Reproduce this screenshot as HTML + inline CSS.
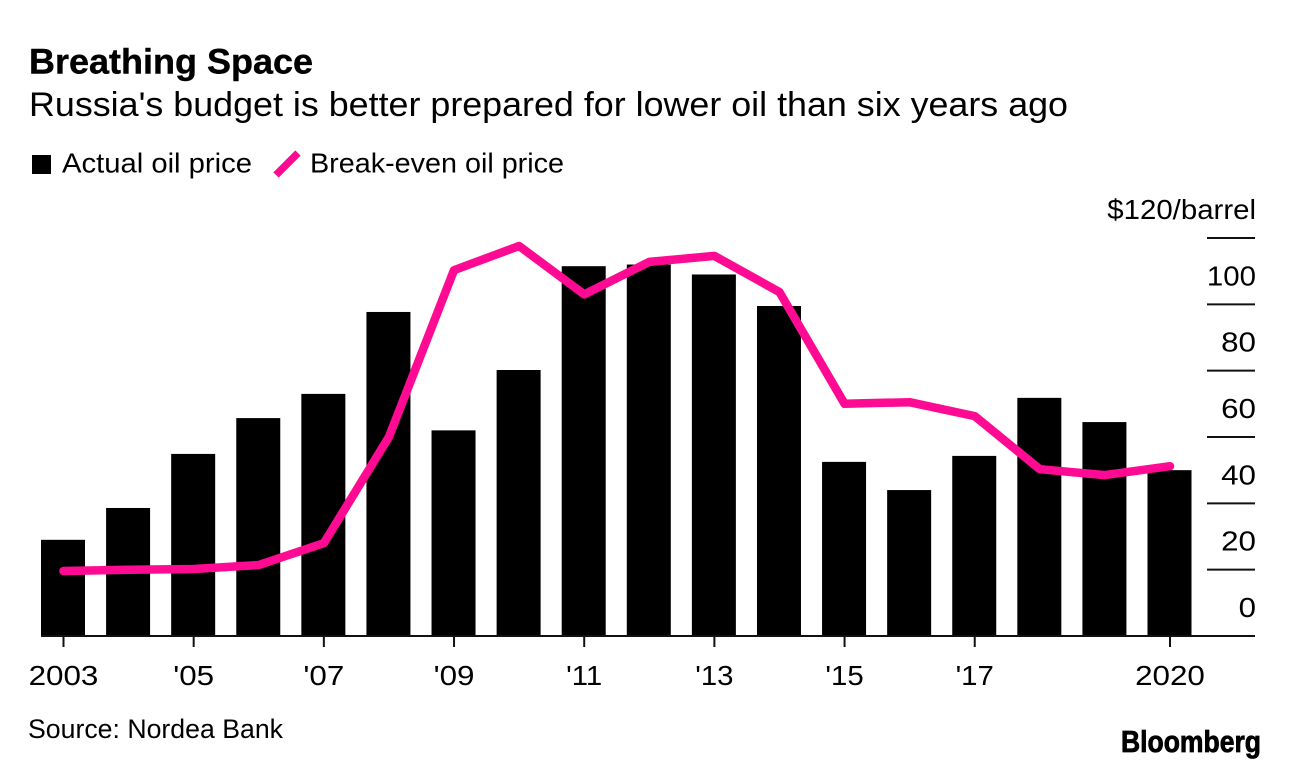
<!DOCTYPE html>
<html lang="en">
<head>
<meta charset="utf-8">
<title>Breathing Space</title>
<style>
html,body{margin:0;padding:0;background:#fff;}
body{width:1289px;height:768px;overflow:hidden;}
svg{display:block;}
text{font-family:"Liberation Sans",sans-serif;fill:#000;}
</style>
</head>
<body>
<svg id="chart" width="1289" height="768" viewBox="0 0 1289 768" xmlns="http://www.w3.org/2000/svg">
  <rect x="0" y="0" width="1289" height="768" fill="#fff"/>
  <text x="29" y="73.5" font-size="35" font-weight="700" stroke="#000" stroke-width="0.4" textLength="284" lengthAdjust="spacingAndGlyphs">Breathing Space</text>
  <text x="29" y="116" font-size="34" textLength="1039" lengthAdjust="spacingAndGlyphs">Russia's budget is better prepared for lower oil than six years ago</text>
  <g>
    <rect x="32" y="155" width="19" height="19" fill="#000"/>
    <text x="62" y="172.5" font-size="28" textLength="190" lengthAdjust="spacingAndGlyphs">Actual oil price</text>
    <line x1="276" y1="175" x2="298" y2="153" stroke="#ff0a93" stroke-width="7.5"/>
    <text x="310" y="172.5" font-size="28" textLength="254" lengthAdjust="spacingAndGlyphs">Break-even oil price</text>
  </g>
  <g id="gridlines"></g>
  <g id="y-labels"></g>
  <g id="bars"></g>
  <line x1="41" y1="636" x2="1255" y2="636" stroke="#111" stroke-width="2"/>
  <g id="x-ticks"></g>
  <g id="x-labels"></g>
  <path id="line" fill="none" stroke="#ff0a93" stroke-width="8.5" stroke-linejoin="round" stroke-linecap="round"/>
  <text x="28" y="738" font-size="27" textLength="255" lengthAdjust="spacingAndGlyphs">Source: Nordea Bank</text>
  <text x="1121" y="752" font-size="31" font-weight="700" stroke="#000" stroke-width="0.8" textLength="140" lengthAdjust="spacingAndGlyphs">Bloomberg</text>
</svg>
<script>
const years = [2003,2004,2005,2006,2007,2008,2009,2010,2011,2012,2013,2014,2015,2016,2017,2018,2019,2020];
const actualPrice = [29,38.6,54.9,65.7,73,97.7,62,80.2,111.5,112,109,99.5,52.5,44,54.3,71.8,64.5,50];
const breakEvenPrice = [19.6,20,20.2,21.4,28,60,110.3,117.6,103,112.8,114.6,103.7,70,70.5,66.3,50.3,48.5,51.2];
const yTicks = [0,20,40,60,80,100,120];
const yTickLabels = ['0','20','40','60','80','100','$120/barrel'];
const xTickYears = [2003,2005,2007,2009,2011,2013,2015,2017,2020];
const xTickLabels = ['2003',"'05","'07","'09","'11","'13","'15","'17",'2020'];

const SVG_NS = 'http://www.w3.org/2000/svg';
const xScale = function (year) { return 63.5 + (year - 2003) * (1170 - 63.5) / 17; };
const yScale = function (value) { return 636 - value * (636 - 238) / 120; };
const BAR_WIDTH = 44;

function make(tag, parentId, attrs) {
  const el = document.createElementNS(SVG_NS, tag);
  Object.keys(attrs).forEach(function (k) { el.setAttribute(k, attrs[k]); });
  document.getElementById(parentId).appendChild(el);
  return el;
}

function widen(textEl) {
  const factor = textEl.textContent.indexOf('1') >= 0 ? 1.05 : 1.12;
  textEl.setAttribute('textLength', (textEl.getComputedTextLength() * factor).toFixed(1));
  textEl.setAttribute('lengthAdjust', 'spacingAndGlyphs');
}

yTicks.forEach(function (v, i) {
  const y = yScale(v);
  if (v > 0) {
    const grid = make('line', 'gridlines', {x1: 1207, x2: 1255, y1: y, y2: y, stroke: '#111', 'stroke-width': 2});
    
    
  }
  const label = make('text', 'y-labels', {x: 1256, y: y - 19, 'font-size': 28, 'text-anchor': 'end'});
  label.textContent = yTickLabels[i];
  
  
  widen(label);
});

years.forEach(function (year, i) {
  const top = yScale(actualPrice[i]);
  const bar = make('rect', 'bars', {x: xScale(year) - BAR_WIDTH / 2 - 0.5, y: top, width: BAR_WIDTH, height: yScale(0) - top, fill: '#000'});
  
  
});

xTickYears.forEach(function (year, i) {
  const x = xScale(year);
  const tick = make('line', 'x-ticks', {x1: x, x2: x, y1: 636, y2: 647, stroke: '#111', 'stroke-width': 2});
  
  
  const label = make('text', 'x-labels', {x: x, y: 685, 'font-size': 28, 'text-anchor': 'middle'});
  label.textContent = xTickLabels[i];
  
  
  widen(label);
});

document.getElementById('line').setAttribute('d', years.map(function (year, i) {
  return (i ? 'L' : 'M') + xScale(year).toFixed(1) + ' ' + yScale(breakEvenPrice[i]).toFixed(1);
}).join(' '));
</script>
</body>
</html>
